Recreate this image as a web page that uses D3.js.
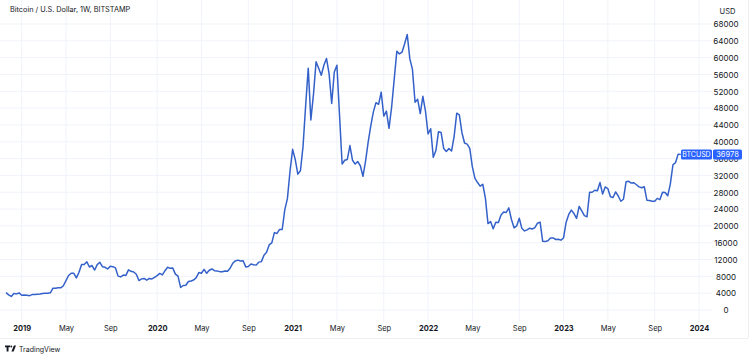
<!DOCTYPE html>
<html>
<head>
<meta charset="utf-8">
<script src="https://cdn.jsdelivr.net/npm/d3@7"></script>
<style>
  html, body { margin: 0; padding: 0; background: #ffffff; }
  svg { display: block; font-family: Inter, "Noto Sans", Roboto, sans-serif; }
</style>
</head>
<body>
<svg id="chart" width="750" height="358"></svg>
<script>
// ---- data (weekly closes, BTCUSD Bitstamp, bars start on Monday) ----
const firstWeek = "2018-11-26";
const close2018 = [4140, 3610, 3230, 3950, 3830, 4060];
const close2019 = [3510, 3540, 3530, 3410, 3660, 3670, 3750, 3810, 3920, 4000, 3990, 4100,
  5190, 5160, 5310, 5280, 5760, 6990, 8200, 8740, 8730, 7640, 8970, 10830, 10820,
  11450, 10230, 10580, 9500, 10800, 11350, 10300, 10150, 9750, 10400, 10300, 10000, 8050, 7870,
  8300, 8220, 9550, 9200, 9050, 8500, 7000, 7400, 7510, 7100, 7510, 7390, 7750];
const close2020 = [8180, 8700, 8350, 9350, 10150, 9900, 9960, 8520, 8040, 5360, 5830, 5880, 6780,
  6900, 7130, 7700, 8900, 8730, 9680, 8720, 9450, 9750, 9340, 9300, 9120, 9080,
  9250, 9200, 9930, 11100, 11680, 11850, 11650, 11700, 10250, 10330, 10930, 10780, 10670,
  11380, 11500, 13030, 13740, 15480, 15960, 18400, 18200, 19150, 19140, 23860, 26480, 33000];
const close2021 = [38200, 35800, 32300, 33100, 38900, 48600, 57500, 45200, 51200, 59000, 57500, 55800, 58200,
  59800, 56200, 49100, 56600, 58200, 46400, 34700, 35600, 35800, 39100, 35600, 34700, 35300,
  34300, 31800, 35400, 39900, 43800, 47100, 49300, 48900, 51800, 46100, 47300, 43200, 48200,
  54900, 61500, 60900, 61300, 63300, 65500, 59700, 57200, 49400, 50100, 46700, 50800, 47300];
const close2022 = [41850, 43100, 36300, 37900, 42400, 42200, 38400, 37700, 38400, 37800, 41300, 46800, 46400,
  42150, 39700, 39450, 38450, 34050, 31300, 30300, 29450, 29900, 26600, 20550, 21030, 19300,
  20850, 20800, 22580, 23300, 23180, 24300, 21520, 19550, 19990, 21800, 19420, 18800, 19050,
  19450, 19270, 19570, 20630, 20900, 16330, 16280, 16450, 17100, 17130, 16760, 16840, 16610];
const close2023 = [17120, 20880, 22710, 23740, 22940, 21800, 24640, 23560, 22430, 22150, 28000, 27990, 28470,
  28330, 30300, 27590, 29250, 28870, 26920, 26750, 28070, 27110, 25850, 26340, 30480, 30590,
  30170, 30250, 29780, 29280, 29050, 29300, 26100, 26020, 25860, 25830, 26540, 26250, 27980,
  27950, 27150, 29990, 34530, 35050, 37060, 36978];
const lastPrice = 36978;

const xTickDates  = ["2019-01-07","2019-05-06","2019-09-02","2020-01-06","2020-05-04","2020-09-07",
  "2021-01-04","2021-05-03","2021-09-06","2022-01-03","2022-05-02","2022-09-05",
  "2023-01-02","2023-05-01","2023-09-04","2024-01-01"];
const xTickLabels = ["2019","May","Sep","2020","May","Sep","2021","May","Sep","2022","May","Sep","2023","May","Sep","2024"];
const yTicks = [0,4000,8000,12000,16000,20000,24000,28000,32000,36000,40000,44000,48000,52000,56000,60000,64000,68000];

const titleText = "Bitcoin / U.S. Dollar, 1W, BITSTAMP";
const symbolText = "BTCUSD";
const currencyText = "USD";

// ---- build series ----
const closes = [].concat(close2018, close2019, close2020, close2021, close2022, close2023);
const parse = d3.utcParse("%Y-%m-%d");
const t0 = parse(firstWeek);
const series = closes.map((v, i) => ({ date: d3.utcDay.offset(t0, 7 * i), value: v }));

// ---- layout ----
const plotRight = 712, plotBottom = 322, axisBottom = 338, frameRight = 748;
const svg = d3.select("#chart");

const x = d3.scaleUtc()
  .domain([parse("2019-01-07"), parse("2024-01-01")])
  .range([21.7, 699]);
const y = d3.scaleLinear().domain([0, 68000]).range([310, 24]);

const gridColor = "#f0f3fa";
const textColor = "#131722";

// grid
const grid = svg.append("g");
grid.selectAll("line.v").data(xTickDates).join("line")
  .attr("x1", d => x(parse(d))).attr("x2", d => x(parse(d)))
  .attr("y1", 0).attr("y2", plotBottom)
  .attr("stroke", gridColor).attr("stroke-width", 1);
grid.selectAll("line.h").data(yTicks).join("line")
  .attr("x1", 0).attr("x2", plotRight)
  .attr("y1", d => y(d)).attr("y2", d => y(d))
  .attr("stroke", gridColor).attr("stroke-width", 1);

// frame
svg.append("line").attr("x1", 0).attr("x2", frameRight).attr("y1", axisBottom + 0.5).attr("y2", axisBottom + 0.5)
  .attr("stroke", "#eceef2");
svg.append("line").attr("x1", frameRight + 0.5).attr("x2", frameRight + 0.5).attr("y1", 0).attr("y2", axisBottom)
  .attr("stroke", "#eceef2");

// y axis labels
const yAxis = d3.axisRight(y).tickValues(yTicks).tickSize(0).tickPadding(0).tickFormat(d3.format("d"));
const gy = svg.append("g").attr("transform", "translate(726,0)").call(yAxis);
gy.select(".domain").remove();
gy.selectAll("text").attr("x", 0).attr("dy", "0.35em").attr("text-anchor", "middle")
  .attr("fill", textColor).style("font-size", "8px").style("font-family", "Inter, sans-serif");

// currency label
svg.append("text").attr("x", 727.5).attr("y", 13.5).attr("text-anchor", "middle")
  .attr("fill", textColor).style("font-size", "7.5px").text(currencyText);

// x axis labels
const xAxis = d3.axisBottom(x).tickValues(xTickDates.map(parse)).tickSize(0).tickPadding(0)
  .tickFormat((d, i) => xTickLabels[i]);
const gx = svg.append("g").attr("transform", "translate(0,326)").call(xAxis);
gx.select(".domain").remove();
gx.selectAll("text").attr("y", 0).attr("dy", "0.71em")
  .attr("fill", textColor).style("font-size", "7.5px").style("font-family", "Inter, sans-serif")
  .style("font-weight", (d, i) => /^\d{4}$/.test(xTickLabels[i]) ? "700" : "400");

// title
svg.append("text").attr("x", 10).attr("y", 12).attr("fill", textColor)
  .style("font-size", "7.3px").text(titleText);

// price line
const line = d3.line().x(d => x(d.date)).y(d => y(d.value));
svg.append("path").datum(series)
  .attr("d", line).attr("fill", "none")
  .attr("stroke", "#3461c9").attr("stroke-width", 1.5)
  .attr("stroke-linejoin", "round");

// last price badges
const by = y(lastPrice);
const badge = svg.append("g");
badge.append("rect").attr("x", 681).attr("y", by - 5).attr("width", 31).attr("height", 10)
  .attr("rx", 1.5).attr("fill", "#2962ff");
badge.append("rect").attr("x", 713).attr("y", by - 5).attr("width", 29).attr("height", 10)
  .attr("rx", 1.5).attr("fill", "#2962ff");
badge.append("text").attr("x", 696.5).attr("y", by).attr("dy", "0.35em").attr("text-anchor", "middle")
  .attr("fill", "#ffffff").style("font-size", "7px").text(symbolText);
badge.append("text").attr("x", 727.5).attr("y", by).attr("dy", "0.35em").attr("text-anchor", "middle")
  .attr("fill", "#ffffff").style("font-size", "7.5px").text(String(lastPrice));

// TradingView logo
const logo = svg.append("g").attr("fill", textColor);
logo.append("path").attr("d", "M5,345.6 H10 V347.3 H8.5 V351.6 H6.6 V347.3 H5 Z");
logo.append("circle").attr("cx", 11.3).attr("cy", 346.5).attr("r", 0.95);
logo.append("path").attr("d", "M13.9,345.6 H16 L13.6,351.6 H11.4 Z");
svg.append("text").attr("x", 19).attr("y", 351.5).attr("fill", textColor)
  .style("font-size", "7px").text("TradingView");
</script>
</body>
</html>
